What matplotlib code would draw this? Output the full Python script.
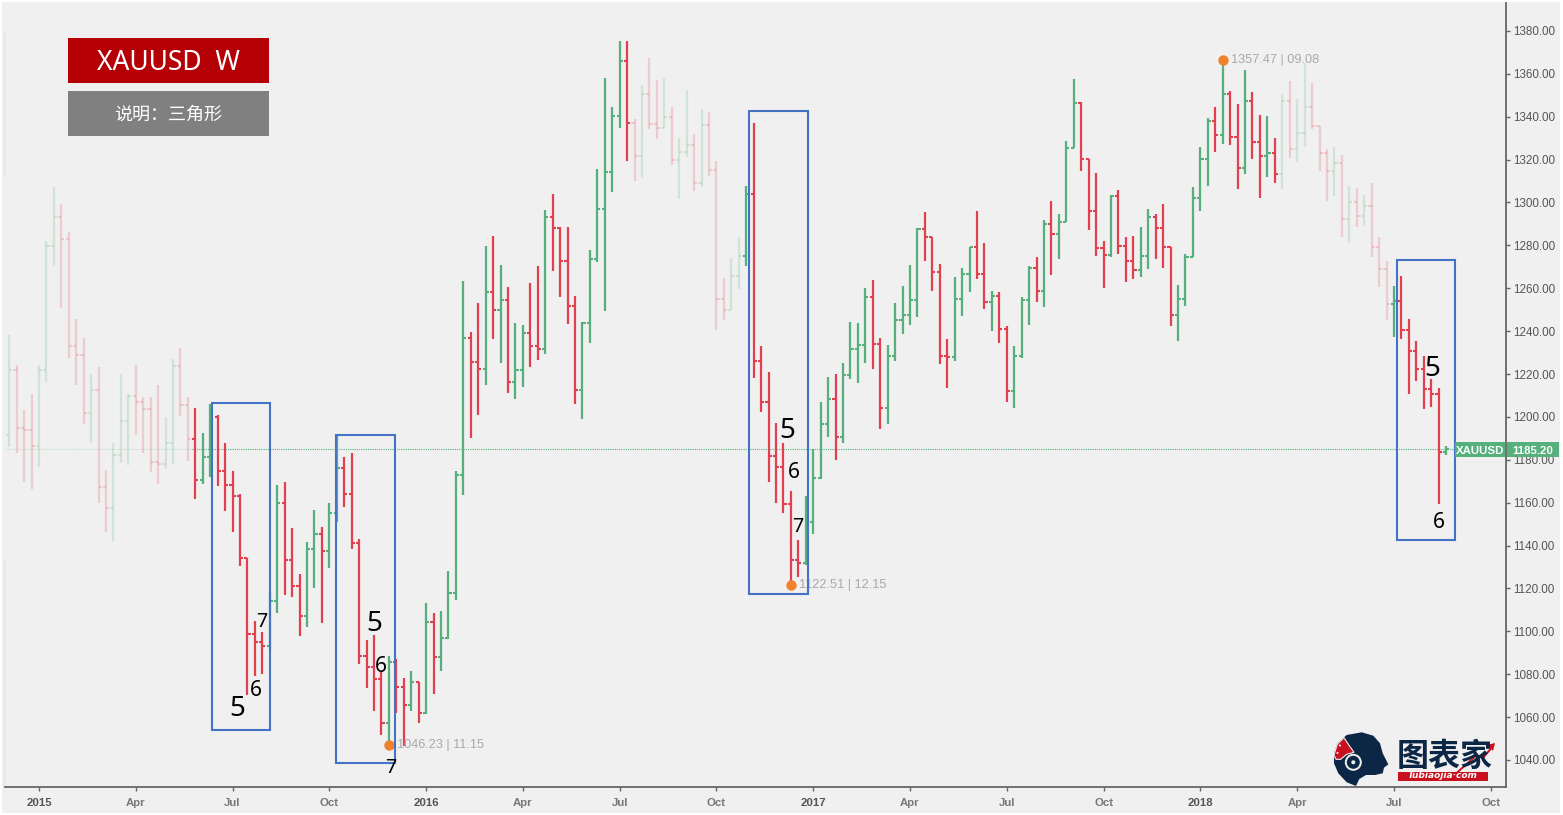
import matplotlib
matplotlib.use("Agg")
import matplotlib.pyplot as plt
from matplotlib.patches import Rectangle, Polygon, Circle

plt.rcParams['font.family'] = ['Liberation Sans', 'DejaVu Sans']

W, H = 1563, 815
BG = '#f0f0f0'
RED = '#e2404f'
GREEN = '#55b07c'

opens = [
 1191.6,1221.9,1194.8,1193.9,1186.4,1221.9,1279.7,1293.3,1283,1233.1,1228.9,1201.8,1212.6,1167.3,1157.5,1182.3,1198.1,1209.8,1207,1203.7,
 1179,1178,1187.9,1223.8,1205.6,1189.7,1170.6,1181.3,1200,1174.8,1168.3,1163.1,1134.2,1098.8,1095,1093.2,1114.2,1159.9,1133.3,1121.2,
 1107.2,1138.4,1145.4,1137.5,1155.2,1176.2,1164.1,1141.2,1088.5,1083.4,1077.8,1057.3,1085.7,1074,1065.7,1076.4,1061.9,1104.4,1088,1096.9,
 1117.9,1172.9,1236.8,1225.6,1222.4,1258.3,1249.9,1254.5,1216.3,1221.9,1239.2,1233.1,1231.7,1293.3,1288.1,1272.7,1251.7,1212.6,1243.8,1273.7,
 1297,1314.2,1340.4,1366,1337.1,1321.7,1350.6,1336.6,1334.8,1339.9,1319.8,1323.6,1326.8,1309.1,1336.2,1315.2,1255,1249.9,1265.7,1275.1,
 1304,1226.1,1207,1181.8,1176.7,1159.4,1133.3,1131.9,1151,1171.5,1196.7,1208.4,1190.6,1219.6,1231.7,1233.6,1255.9,1234,1204.2,1228.4,
 1245.2,1247.5,1254.5,1287.7,1283.9,1267.6,1228.4,1228,1255,1266.7,1279.3,1266.7,1253.6,1256.4,1241,1212.1,1228.4,1254.5,1269.5,1258.7,
 1290,1285.3,1290.9,1325.4,1346.4,1320.3,1296,1278.8,1275.5,1303,1279.7,1272.7,1268.5,1275.1,1293.3,1288.1,1279.3,1247.5,1255,1274.6,
 1302.1,1320.3,1338,1331.5,1350.6,1330.6,1316.1,1347.4,1328.2,1321.7,1323.1,1313.3,1347.4,1325,1332.4,1344.6,1335.7,1323.1,1314.7,1318.4,
 1292.3,1300.2,1293.7,1298.4,1279.3,1269,1252.7,1254.1,1240.6,1230.8,1222.4,1213,1210.7,1183.7]
highs = [
 1238.2,1224.2,1203.2,1210.7,1224.2,1282.1,1307.2,1299.3,1286.3,1245.7,1236.8,1220,1223.3,1175.3,1187.9,1220,1210.7,1224.2,1209.3,1209.3,
 1214.9,1200,1227,1232.2,1209.3,1204.2,1192.5,1206,1200.9,1187.9,1174.8,1164.1,1134.2,1104.8,1099.7,1118.4,1168.3,1169.7,1148.2,1126.8,
 1141.7,1156.6,1148.7,1159.9,1191.6,1181.3,1183.2,1143.1,1096,1098.3,1081,1088.5,1087.1,1078.2,1081.5,1076.4,1113.2,1108.6,1109.5,1128.1,
 1174.8,1263.4,1239.6,1253.1,1279.7,1284.4,1270.9,1260.6,1243.8,1242.9,1262.5,1270.4,1296.5,1304,1288.6,1288.6,1256.4,1244.3,1277.9,1315.6,
 1358.1,1344.6,1375.3,1375.3,1339,1354.8,1367.4,1357.2,1358.1,1344.6,1330.1,1352.5,1332,1343.6,1342.2,1319.4,1264.8,1274.1,1283.9,1307.7,
 1337.1,1233.1,1221,1197.2,1187.9,1165.5,1142.6,1163.1,1185,1207,1218.6,1220,1225.2,1244.3,1243.8,1260.1,1263.9,1236.8,1233.6,1253.1,
 1261.1,1270.9,1288.1,1295.6,1283.9,1271.3,1236.4,1265.3,1269.5,1279.3,1296,1281.1,1258.7,1258.3,1242.4,1233.1,1255.9,1270.4,1274.6,1291.9,
 1300.7,1294.7,1328.7,1357.6,1346.9,1320.3,1313.8,1282.1,1303.5,1305.8,1283.9,1284.4,1288.6,1297,1294.7,1299.3,1279.3,1261.5,1276,1307.2,
 1325.9,1339.4,1344.6,1366.4,1352,1346,1361.8,1351.6,1340.8,1340.4,1330.1,1350.6,1356.7,1348.3,1365.1,1355.8,1335.7,1325,1325.9,1322.2,
 1307.7,1306.8,1303.5,1309.1,1283.9,1272.7,1261.1,1265.7,1245.7,1235.4,1228.4,1217.7,1213.5,1186.4]
lows = [
 1186,1183.2,1169.7,1166.4,1176.7,1216.3,1270.4,1250.8,1227.5,1214.9,1196.7,1187.9,1159.9,1146.3,1142.1,1178.5,1177.6,1191.6,1183.2,1174.3,
 1168.7,1175.7,1178,1200.4,1179.5,1161.7,1168.7,1172,1167.8,1156.1,1146.3,1130.5,1070.3,1079.2,1080.1,1091.3,1108.6,1117,1116,1097.8,
 1102,1120.2,1103.9,1129.5,1151,1158,1138.4,1084.8,1073.6,1062.9,1051.7,1047,1061.9,1046.5,1062.9,1057.3,1061.5,1070.8,1081.5,1096.4,
 1114.6,1163.6,1190.2,1200.9,1214.9,1236.4,1225.2,1211.2,1208.4,1214,1223.3,1226.6,1229.4,1268.1,1255.9,1243.4,1206,1199,1234.5,1272.3,
 1249.4,1304.9,1334.8,1319.4,1310,1311.4,1334.3,1329.6,1334.8,1317.5,1301.7,1321.2,1305.4,1307.2,1312.4,1240.6,1245.2,1249.9,1259.7,1270.4,
 1218.2,1202.3,1169.7,1159.9,1155.2,1121.5,1125.4,1130.9,1145.4,1171.1,1190.6,1179.9,1187.9,1217.7,1215.8,1225.2,1222.4,1194.4,1196.7,1226.1,
 1238.7,1242.9,1246.6,1272.7,1258.7,1224.7,1213.5,1226.1,1247.1,1258.3,1264.3,1250.3,1240,1234.5,1207,1204.2,1227.5,1242.9,1253.6,1251.3,
 1266.2,1273.7,1290.9,1325.4,1314.7,1287.2,1275.1,1260.1,1274.6,1276,1262.9,1264.3,1265.3,1269,1273.7,1269.5,1242.4,1235.4,1251.7,1274.6,
 1296,1307.7,1323.6,1327.3,1326.8,1306.3,1313.3,1320.3,1302.1,1311.9,1309.1,1306.3,1320.8,1318.9,1325.9,1334.3,1314.7,1300.7,1303,1283.9,
 1281.1,1288.6,1289.1,1274.6,1260.6,1245.2,1237.3,1236.4,1210.7,1216.8,1203.7,1204.6,1159.4,1182.3]
closes = [
 1221.9,1194.8,1193.9,1186.4,1221.9,1279.7,1293.3,1283,1233.1,1228.9,1201.8,1212.6,1167.3,1157.5,1182.3,1198.1,1209.8,1207,1203.7,1179,
 1178,1187.9,1223.8,1205.6,1189.7,1170.6,1181.3,1200.9,1174.8,1168.3,1163.1,1134.2,1098.8,1095,1093.2,1114.2,1159.9,1133.3,1121.2,1107.2,
 1138.4,1145.4,1137.5,1155.2,1176.2,1164.1,1141.2,1088.5,1083.4,1077.8,1057.3,1085.7,1074,1065.7,1076.4,1061.9,1104.4,1088,1096.9,1117.9,
 1172.9,1236.8,1225.6,1222.4,1258.3,1249.9,1254.5,1216.3,1221.9,1239.2,1233.1,1231.7,1293.3,1288.1,1272.7,1251.7,1212.6,1243.8,1273.7,1297,
 1314.2,1340.4,1366,1337.1,1321.7,1350.6,1336.6,1334.8,1339.9,1319.8,1323.6,1326.8,1309.1,1336.2,1315.2,1255,1249.9,1265.7,1275.1,1304,
 1226.1,1207,1181.8,1176.7,1159.4,1133.3,1131.9,1151,1171.5,1196.7,1208.4,1190.6,1219.6,1231.7,1233.6,1255.9,1234,1204.2,1228.4,1245.2,
 1247.5,1254.5,1287.7,1283.9,1267.6,1228.4,1228,1255,1266.7,1279.3,1266.7,1253.6,1256.4,1241,1212.1,1228.4,1254.5,1269.5,1258.7,1290,
 1285.3,1290.9,1325.4,1346.4,1320.3,1296,1278.8,1275.5,1303,1279.7,1272.7,1268.5,1275.1,1293.3,1288.1,1279.3,1247.5,1255,1274.6,1302.1,
 1320.3,1338,1331.5,1350.6,1330.6,1316.1,1347.4,1328.2,1321.7,1323.1,1313.3,1347.4,1325,1332.4,1344.6,1335.7,1323.1,1314.7,1318.4,1292.3,
 1300.2,1293.7,1298.4,1279.3,1269,1252.7,1254.1,1240.6,1230.8,1222.4,1213,1210.7,1183.7,1185.2]

faded_spans = [(0, 24), (84, 98), (171, 185)]
x_tick_weeks = [4, 17, 30, 43, 56, 69, 82, 95, 108, 121, 134, 147, 160, 173, 186, 199]
x_tick_labels = ['2015', 'Apr', 'Jul', 'Oct', '2016', 'Apr', 'Jul', 'Oct',
                 '2017', 'Apr', 'Jul', 'Oct', '2018', 'Apr', 'Jul', 'Oct']
y_ticks = list(range(1040, 1381, 20))
last_price = 1185.20
swing_notes = [(51, 'low', '1046.23', '11.15'), (105, 'low', '1122.51', '12.15'), (163, 'high', '1357.47', '09.08')]


def px_rect(x0, y0, x1, y1):
    return [x0 / W, 1 - y1 / H, (x1 - x0) / W, (y1 - y0) / H]


fig = plt.figure(figsize=(W / 100, H / 100), dpi=100, facecolor=BG)
ax = fig.add_axes(px_rect(5, 2, 1506, 787), facecolor=BG)

for i, (o, h, l, c) in enumerate(zip(opens, highs, lows, closes)):
    col = GREEN if c >= o else RED
    alpha = 0.2 if any(a <= i <= b for a, b in faded_spans) else 1.0
    ax.vlines(i, l, h, color=col, lw=1.6, alpha=alpha, zorder=3, capstyle='butt')
    ax.hlines(o, i - 0.42, i, color=col, lw=1.5, alpha=alpha, zorder=3)
    ax.hlines(c, i, i + 0.42, color=col, lw=1.5, alpha=alpha, zorder=3)

ax.set_xlim(-0.56, 201.05)
ax.set_ylim(1027.4, 1393.5)
ax.plot([-0.5, 24.5], [last_price] * 2, color=GREEN, lw=0.8, ls=(0, (1, 1)), alpha=0.3, zorder=2)
ax.plot([24.5, 201.05], [last_price] * 2, color=GREEN, lw=0.8, ls=(0, (1, 1)), zorder=2)

for idx, kind, price, date in swing_notes:
    yv = lows[idx] if kind == 'low' else highs[idx]
    ax.scatter([idx], [yv], s=56, color='#f0812d', zorder=5, linewidths=0)
    ax.annotate(f'{price} | {date}', (idx, yv), xytext=(8, 0), textcoords='offset pixels',
                color='#a9a9a9', fontsize=9.2, va='center', ha='left', zorder=4)

for s in ('top', 'left'):
    ax.spines[s].set_visible(False)
for s in ('right', 'bottom'):
    ax.spines[s].set_color('#666666')
    ax.spines[s].set_linewidth(1.3)
ax.yaxis.tick_right()
ax.set_yticks(y_ticks)
ax.set_yticklabels([f'{v:.2f}' for v in y_ticks], fontsize=8.4, color='#555555')
ax.set_xticks(x_tick_weeks)
ax.set_xticklabels(x_tick_labels, fontsize=8.2, color='#777777', fontweight='bold')
for lab in ax.get_xticklabels():
    if lab.get_text().isdigit():
        lab.set_color('#555555')
ax.tick_params(axis='y', length=3, width=1, color='#666666', pad=2)
ax.tick_params(axis='x', length=3, width=1, color='#666666', pad=5)

# overlay in pixel coordinates for annotations drawn on top of the chart
ov = fig.add_axes([0, 0, 1, 1], facecolor='none', zorder=10)
ov.set_xlim(0, W)
ov.set_ylim(H, 0)
ov.axis('off')

# screenshot edges
for x0, y0, x1, y1 in [(0, 0, W, 2), (0, 813, W, H), (0, 0, 2, H), (1560, 0, W, H)]:
    ov.add_patch(Rectangle((x0, y0), x1 - x0, y1 - y0, fc='white', ec='none'))
for x0, y0, x1, y1 in [(3, 32, 6, 175), (3, 560, 6, 786)]:
    ov.add_patch(Rectangle((x0, y0), x1 - x0, y1 - y0, fc='#e8eaec', ec='none'))

ov.add_patch(Rectangle((68, 38), 201, 45, fc='#b50005', ec='none'))
ov.add_patch(Rectangle((68, 91), 201, 45, fc='#808080', ec='none'))
ov.text(168.5, 63, 'XAUUSD  W', color='white', fontsize=19, ha='center', va='center', family='Noto Sans')
ov.text(168.5, 115, '说明：三角形', color='white', fontsize=13, ha='center', va='center',
        family=['Noto Sans CJK SC', 'DejaVu Sans'])

for x0, y0, x1, y1 in [(212, 403, 270, 730), (336, 435, 395, 763), (749, 111, 808, 594), (1397, 260, 1455, 540)]:
    ov.add_patch(Rectangle((x0, y0), x1 - x0, y1 - y0, fc='none', ec='#4472c4', lw=1.5))

notes = [('5', 237, 709, 20), ('6', 256, 691, 15), ('7', 262, 622, 14),
         ('5', 374, 624, 20), ('6', 381, 666, 15), ('7', 391, 768, 14),
         ('5', 787, 431, 20), ('6', 794, 473, 15), ('7', 798, 527, 14),
         ('5', 1432, 369, 20), ('6', 1439, 522, 15)]
for t, x, y, fs in notes:
    ov.text(x, y, t, color='black', fontsize=fs, ha='center', va='center', family='Noto Sans')

# last price tags
ov.add_patch(Rectangle((1455, 442), 50, 15, fc=GREEN, ec='none'))
ov.add_patch(Rectangle((1507, 442), 52, 15, fc=GREEN, ec='none'))
ov.text(1480, 450.5, 'XAUUSD', color='white', fontsize=8.2, fontweight='bold', ha='center', va='center')
ov.text(1533, 450.5, f'{last_price:.2f}', color='white', fontsize=8.2, fontweight='bold', ha='center', va='center')

# logo
NAVY = '#0b2745'
CRIMSON = '#c8101e'
head = [(1361.7, 732.3), (1373.3, 735.7), (1380, 743.3), (1382.7, 753.3), (1388.3, 764.3), (1384, 767.7),
        (1382.7, 773.3), (1375, 775), (1366, 775), (1359.3, 779), (1356, 786), (1346.7, 782.3),
        (1338.3, 773.3), (1334, 763.3), (1334, 753.3), (1337.3, 743.3), (1346.7, 735)]
ov.add_patch(Polygon(head, closed=True, fc=NAVY, ec='none'))
ov.add_patch(Polygon([(1334, 755), (1337.3, 744.3), (1344, 737.7), (1349.3, 745.7), (1354, 752.3),
                      (1346.7, 754.3), (1340.7, 759.3), (1336, 759.3)],
                     closed=True, fc=CRIMSON, ec=BG, lw=0.8))
ov.add_patch(Circle((1353.3, 762.3), 8.5, fc=BG, ec='none'))
ov.add_patch(Circle((1353.3, 762.3), 6.5, fc=NAVY, ec='none'))
ov.add_patch(Circle((1353.3, 762.3), 2, fc=BG, ec='none'))
ov.add_patch(Circle((1340, 745.5), 1, fc='white', ec='none'))
ov.add_patch(Circle((1337.5, 753), 1, fc='white', ec='none'))
ov.text(1444.5, 757, '图表家', color=NAVY, fontsize=23, ha='center', va='center',
        family=['Noto Sans CJK SC', 'DejaVu Sans'], fontweight='bold')
ov.add_patch(Rectangle((1398, 771.5), 89.5, 9, fc=CRIMSON, ec='none'))
ov.text(1443, 776, 'Tubiaojia·com', color='white', fontsize=6.5, fontweight='bold', style='italic',
        ha='center', va='center', family='DejaVu Sans')
ov.plot([1458, 1476.7, 1483, 1493], [771.7, 755, 758, 746], color=CRIMSON, lw=1.4)
ov.add_patch(Polygon([(1495, 743), (1487, 745), (1493, 751)], closed=True, fc=CRIMSON, ec='none'))

fig.savefig('out.png', dpi=100, facecolor=BG)
